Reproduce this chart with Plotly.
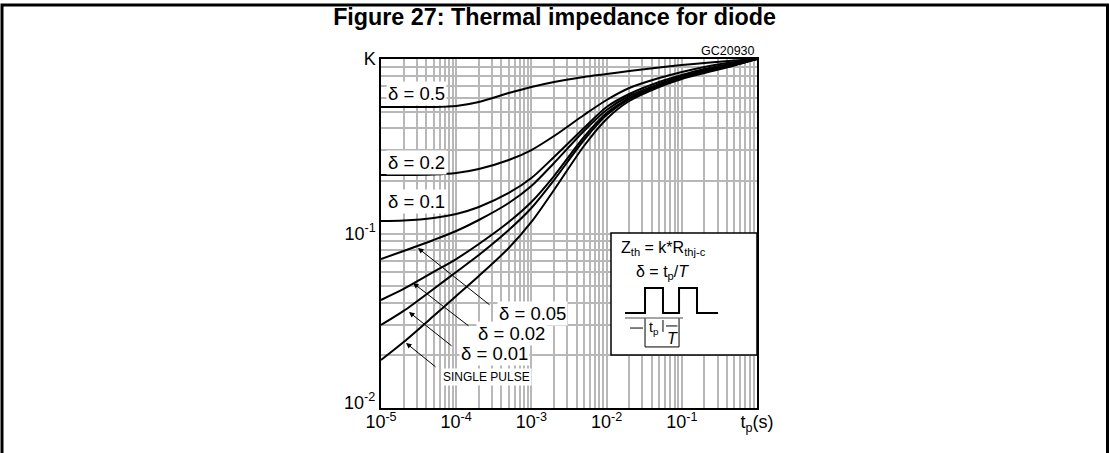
import plotly.graph_objects as go

# ---- data ----
t_s = [1e-5, 2e-5, 5e-5, 1e-4, 2e-4, 5e-4, 1e-3, 2e-3, 5e-3, 1e-2, 2e-2, 5e-2, 1e-1, 2e-1, 5e-1, 1.0]
k_d050 = [0.531, 0.531, 0.531, 0.538, 0.567, 0.638, 0.691, 0.738, 0.789, 0.820, 0.854, 0.894, 0.924, 0.949, 0.980, 1.0]
k_d020 = [0.2164, 0.2164, 0.2178, 0.2222, 0.2342, 0.2637, 0.3009, 0.3619, 0.4776, 0.5821, 0.6821, 0.7784, 0.8424, 0.8999, 0.9612, 1.0]
k_d010 = [0.1179, 0.1187, 0.1227, 0.1293, 0.1418, 0.1707, 0.2080, 0.2745, 0.4023, 0.5307, 0.6302, 0.7383, 0.8097, 0.8763, 0.9486, 1.0]
k_d005 = [0.0714, 0.0794, 0.0918, 0.1034, 0.1195, 0.1496, 0.1871, 0.2535, 0.3867, 0.5101, 0.6136, 0.7190, 0.7990, 0.8650, 0.9362, 1.0]
k_d002 = [0.0416, 0.0481, 0.0602, 0.0714, 0.0871, 0.1164, 0.1515, 0.2135, 0.3573, 0.4902, 0.5976, 0.7096, 0.7888, 0.8537, 0.9300, 1.0]
k_d001 = [0.0299, 0.0360, 0.0481, 0.0602, 0.0753, 0.1047, 0.1400, 0.2025, 0.3434, 0.4776, 0.5898, 0.7002, 0.7784, 0.8424, 0.9240, 1.0]
k_single = [0.01884, 0.02389, 0.03366, 0.04383, 0.05707, 0.08258, 0.1164, 0.1776, 0.3172, 0.4531, 0.5744, 0.6911, 0.7680, 0.8313, 0.9179, 1.0]

series = [("δ = 0.5", k_d050), ("δ = 0.2", k_d020), ("δ = 0.1", k_d010), ("δ = 0.05", k_d005),
          ("δ = 0.02", k_d002), ("δ = 0.01", k_d001), ("SINGLE PULSE", k_single)]

x_tickvals = [1e-5, 1e-4, 1e-3, 1e-2, 1e-1, 1.0]
x_ticktext = ["10<sup>-5</sup>", "10<sup>-4</sup>", "10<sup>-3</sup>", "10<sup>-2</sup>", "10<sup>-1</sup>", "t<sub>p</sub>(s)"]
y_tickvals = [1e-1, 1.0]
y_ticktext = ["10<sup>-1</sup>", "K"]
y_bottom_label = "10<sup>-2</sup>"

x_minor = [m * 10.0 ** e for e in range(-5, 0) for m in range(2, 10)]
y_minor = [m * 10.0 ** e for e in range(-2, 0) for m in range(2, 10)]

FONT = "Liberation Sans, Arial, sans-serif"
W, H = 1109, 453
PL, PR, PT, PB = 381, 757, 59, 408


def fx(px):
    return (px - PL) / (PR - PL)


def fy(py):
    return (PB - py) / (PB - PT)


fig = go.Figure()
for name, k in series:
    fig.add_trace(go.Scatter(x=t_s, y=k, mode="lines", name=name,
                             line=dict(color="black", width=2, shape="spline", smoothing=0.8),
                             showlegend=False, hoverinfo="skip"))

GRID = "#b8b8b8"
fig.update_xaxes(type="log", range=[-5, 0], tickvals=x_tickvals, ticktext=x_ticktext,
                 showgrid=True, gridcolor=GRID, gridwidth=1.5, ticks="", ticklabelstandoff=-3,
                 minor=dict(tickvals=x_minor, showgrid=True, gridcolor=GRID, gridwidth=1.5, ticks=""),
                 showline=True, linecolor="black", linewidth=1.5, mirror=True,
                 tickfont=dict(family=FONT, size=18, color="black"), zeroline=False)
fig.update_yaxes(type="log", range=[-2, 0], tickvals=y_tickvals, ticktext=y_ticktext,
                 showgrid=True, gridcolor=GRID, gridwidth=1.5, ticks="",
                 minor=dict(tickvals=y_minor, showgrid=True, gridcolor=GRID, gridwidth=1.5, ticks=""),
                 showline=True, linecolor="black", linewidth=1.5, mirror=True,
                 tickfont=dict(family=FONT, size=18, color="black"), zeroline=False)

shapes = []
# outer frame (left, top, right)
shapes.append(dict(type="path", xref="paper", yref="paper",
                   path=f"M {fx(2)} {fy(480)} L {fx(2)} {fy(5)} L {fx(1107.5)} {fy(5)} L {fx(1107.5)} {fy(480)}",
                   line=dict(color="black", width=3)))
# inset box
bx0, bx1, by0, by1 = 611, 757, 233, 355
shapes.append(dict(type="rect", xref="paper", yref="paper", x0=fx(bx0), x1=fx(bx1), y0=fy(by1), y1=fy(by0),
                   fillcolor="white", line=dict(color="black", width=1.5), layer="above"))


def bxp(f):
    return bx0 + f * (bx1 - bx0)


def byp(g):
    return by0 + g * (by1 - by0)


def seg(pts, color="black", width=1.5):
    p = "M " + " L ".join(f"{fx(bxp(a))} {fy(byp(b))}" for a, b in pts)
    shapes.append(dict(type="path", xref="paper", yref="paper", path=p,
                       line=dict(color=color, width=width), layer="above"))


# pulse waveform
seg([(0.096, 0.656), (0.233, 0.656), (0.233, 0.451), (0.356, 0.451), (0.356, 0.656),
     (0.466, 0.656), (0.466, 0.451), (0.589, 0.451), (0.589, 0.656), (0.733, 0.656)], width=2)
seg([(0.096, 0.697), (0.493, 0.697)], color="#888888", width=1.5)
# dimension marks
seg([(0.130, 0.779), (0.219, 0.779)], width=1)
seg([(0.233, 0.70), (0.233, 0.934)], width=1)
seg([(0.356, 0.713), (0.356, 0.811)], width=1)
seg([(0.377, 0.762), (0.455, 0.762)], width=1)
seg([(0.466, 0.70), (0.466, 0.934)], width=1)
seg([(0.233, 0.934), (0.466, 0.934)], width=1)

annotations = []


def txt(text, px, py, size, xanchor="left", yanchor="middle", bg=None):
    d = dict(text=text, xref="paper", yref="paper", x=fx(px), y=fy(py), showarrow=False,
             xanchor=xanchor, yanchor=yanchor, font=dict(family=FONT, size=size, color="black"),
             borderpad=1)
    if bg:
        d["bgcolor"] = bg
    annotations.append(d)


txt(y_bottom_label, 377, 401, 18, xanchor="right")
txt("GC20930", 757, 59.5, 12.5, xanchor="right", yanchor="bottom")
txt("δ = 0.5", 386, 93, 18.5, bg="white")
txt("δ = 0.2", 386, 162, 18.5, bg="white")
txt("δ = 0.1", 386, 201, 18.5, bg="white")
txt("δ = 0.05", 497, 313, 18.5, bg="white")
txt("δ = 0.02", 476, 333, 18.5, bg="white")
txt("δ = 0.01", 459, 353, 18.5, bg="white")
txt("SINGLE PULSE", 441, 377, 12, bg="white")

# arrows pointing to curves
arrows = [(418, 248, 73, 58), (413, 283, 57, 44), (409, 312, 44, 35), (406, 343, 31, 25)]
for hx, hy, ax, ay in arrows:
    annotations.append(dict(text="", xref="paper", yref="paper", x=fx(hx), y=fy(hy),
                            showarrow=True, ax=ax, ay=ay, arrowhead=2, arrowsize=1.1,
                            arrowwidth=1, arrowcolor="black"))

# inset text
txt("Z<sub>th</sub> = k*R<sub>thj-c</sub>", bxp(0.363), byp(0.123), 16, xanchor="center")
txt("δ = t<sub>p</sub>/<i>T</i>", bxp(0.35), byp(0.32), 16, xanchor="center")
txt("t<sub>p</sub>", bxp(0.295), byp(0.78), 14, xanchor="center")
txt("<i>T</i>", bxp(0.418), byp(0.865), 16, xanchor="center")

fig.update_layout(
    width=W, height=H, autosize=False,
    margin=dict(l=PL, r=W - PR, t=PT, b=H - PB, pad=0),
    paper_bgcolor="white", plot_bgcolor="white",
    title=dict(text="<b>Figure 27: Thermal impedance for diode</b>", x=0.5, xref="container",
               y=1 - 17 / H, yref="container", yanchor="middle", xanchor="center",
               font=dict(family=FONT, size=23.3, color="black")),
    shapes=shapes, annotations=annotations,
)

fig.write_html("out.html", config={"displayModeBar": False},
               post_script="document.body.style.margin='0px';document.body.style.overflow='hidden';")
